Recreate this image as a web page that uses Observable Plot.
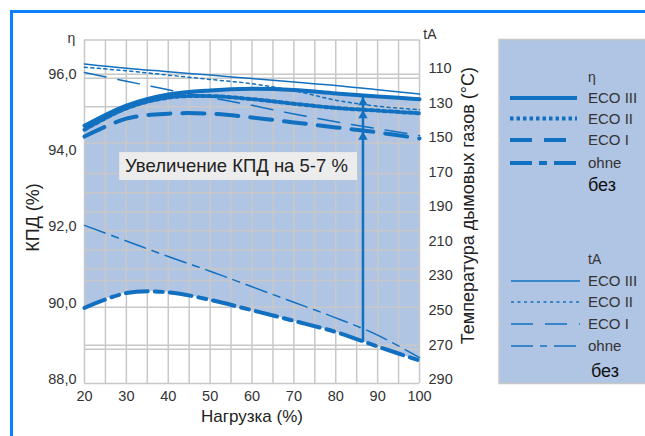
<!DOCTYPE html>
<html>
<head>
<meta charset="utf-8">
<script src="https://cdn.jsdelivr.net/npm/d3@7"></script>
<script src="https://cdn.jsdelivr.net/npm/@observablehq/plot@0.6"></script>
<style>
  html, body { margin: 0; padding: 0; background: #fff; }
  #wrap { position: relative; width: 645px; height: 436px; overflow: hidden; font-family: "Liberation Sans", Arial, sans-serif; }
  #frame { position: absolute; left: 10px; top: 10px; width: 700px; height: 500px; border-left: 3px solid #0a80ff; border-top: 3px solid #0a80ff; pointer-events: none; }
  #chart { position: absolute; left: 0; top: 0; }
</style>
</head>
<body>
<div id="wrap"><div id="chart"></div><div id="frame"></div></div>
<script>
// ---- data ----
const loads      = [20, 30, 40, 50, 60, 70, 80, 90, 100];           // Нагрузка (%)
const etaEcoIII  = [94.75, 95.28, 95.57, 95.68, 95.72, 95.69, 95.60, 95.52, 95.45];
const etaEcoII   = [94.65, 95.21, 95.49, 95.53, 95.45, 95.33, 95.22, 95.15, 95.08];
const etaEcoI    = [94.47, 94.94, 95.07, 95.07, 94.97, 94.84, 94.71, 94.58, 94.42];
const etaOhne    = [89.98, 90.37, 90.39, 90.19, 89.92, 89.64, 89.35, 88.97, 88.60];
const tEcoIII    = [105, 107.5, 109.5, 111.5, 113.5, 115.5, 117.5, 120, 122.5];   // °C
const tEcoII     = [107, 109, 111.5, 114, 116.5, 120.5, 126, 129.5, 131.5];
const tEcoI      = [110, 115, 120, 124.5, 129, 134, 138.5, 142.5, 146.5];
const tOhne      = [198.5, 207.5, 216.5, 225, 234, 243, 252, 262, 275];

const xTicks     = [20, 30, 40, 50, 60, 70, 80, 90, 100];
const xGrid      = [20, 25, 30, 35, 40, 45, 50, 55, 60, 65, 70, 75, 80, 85, 90, 95, 100];
const etaTicks   = [88, 90, 92, 94, 96];
const etaGrid    = [97, 96.1, 96, 95.25, 94.3, 93.5, 93, 92.5, 92, 91.5, 91, 90.7, 90, 89, 88.9, 88];
const tempTicks  = [110, 130, 150, 170, 190, 210, 230, 250, 270, 290];

const arrowLoad  = 86.5;
const arrowFrom  = 89.07;
const arrowTo    = 95.50;
const arrowHeads = [95.50, 95.16, 94.60];

const seriesNames = ["ECO III", "ECO II", "ECO I", "ohne"];
const annotationText = "Увеличение КПД на 5-7 %";

// ---- helpers ----
// right axis (flue-gas temperature) is a linear relabelling of the left axis
const tToEta = t => 88 + (290 - t) * (8.148 / 180);
const fmtEta = d => d.toFixed(1).replace(".", ",");

const rows = loads.map((l, i) => ({
  load: l,
  eco3: etaEcoIII[i], eco2: etaEcoII[i], eco1: etaEcoI[i], ohne: etaOhne[i],
  t3: tToEta(tEcoIII[i]), t2: tToEta(tEcoII[i]), t1: tToEta(tEcoI[i]), t0: tToEta(tOhne[i])
}));

const blue = "#1170bf";
const gridC = "#c8c8c8";
const fillC = "#b0c4e3";
const txt = "#333";

const thick = { "ECO III": null, "ECO II": "3.5,3", "ECO I": "22,12", "ohne": "22,7,8,7" };
const thin  = { "ECO III": null, "ECO II": "3,3.5", "ECO I": "22,12", "ohne": "22,7,7,7" };
const etaKeys = { "ECO III": "eco3", "ECO II": "eco2", "ECO I": "eco1", "ohne": "ohne" };
const tKeys   = { "ECO III": "t3", "ECO II": "t2", "ECO I": "t1", "ohne": "t0" };

const marks = [
  Plot.areaY(rows, { x: "load", y1: "ohne", y2: "eco3", fill: fillC, curve: "catmull-rom" }),
  Plot.ruleX(xGrid, { stroke: gridC, strokeWidth: 1.5 }),
  Plot.ruleY(etaGrid, { stroke: gridC, strokeWidth: 1.5 }),
];
for (const s of seriesNames) {
  marks.push(Plot.line(rows, { x: "load", y: tKeys[s], stroke: blue, strokeWidth: 1.5,
    strokeDasharray: thin[s], curve: "catmull-rom" }));
}
for (const s of seriesNames) {
  marks.push(Plot.line(rows, { x: "load", y: etaKeys[s], stroke: blue, strokeWidth: 4,
    strokeDasharray: thick[s], curve: "catmull-rom" }));
}
marks.push(
  Plot.rect([{ x1: 28.4, x2: 85.2, y1: 93.32, y2: 94.05 }], { x1: "x1", x2: "x2", y1: "y1", y2: "y2", fill: "#ececec" }),
  Plot.text([annotationText], { x: 29.7, y: 93.69, text: d => d, textAnchor: "start", fontSize: 18.5, fill: "#222" }),
  Plot.ruleX([arrowLoad], { y1: arrowFrom, y2: arrowTo, stroke: blue, strokeWidth: 2.5 }),
  Plot.dot(arrowHeads, { x: () => arrowLoad, y: d => d, symbol: "triangle", r: 3.5, fill: blue, dy: 5.4 }),
  // tick labels
  Plot.text(xTicks, { x: d => d, frameAnchor: "bottom", dy: 17, text: d => String(d), fontSize: 14.5, fill: txt }),
  Plot.text(etaTicks, { y: d => d, frameAnchor: "left", dx: -8, dy: -4, textAnchor: "end", text: fmtEta, fontSize: 14.5, fill: txt }),
  Plot.text(tempTicks, { y: d => tToEta(d), frameAnchor: "right", dx: 9, dy: -4, textAnchor: "start", text: d => String(d), fontSize: 14.5, fill: txt }),
  // axis titles (placed in scale coordinates outside the frame)
  Plot.text(["КПД (%)"], { x: 7.8, y: 92.35, rotate: -90, text: d => d, fontSize: 18, fill: "#222" }),
  Plot.text(["Температура дымовых газов (°C)"], { x: 111.7, y: 92.66, rotate: -90, text: d => d, fontSize: 18, fill: "#222" }),
  Plot.text(["Нагрузка (%)"], { frameAnchor: "bottom", dy: 38, text: d => d, fontSize: 17, fill: "#222" }),
  Plot.text(["η"], { frameAnchor: "top-left", dx: -17, dy: -7, text: d => d, fontSize: 14, fill: txt }),
  Plot.text(["tA"], { frameAnchor: "top-right", dx: 17, dy: -11, text: d => d, fontSize: 14, fill: txt })
);

const chart = Plot.plot({
  width: 645, height: 436,
  marginLeft: 84, marginRight: 226, marginTop: 39.5, marginBottom: 53,
  x: { domain: [20, 100], axis: null },
  y: { domain: [88, 97], axis: null },
  style: { fontFamily: "'Liberation Sans', Arial, sans-serif", background: "transparent", overflow: "visible" },
  marks
});
document.getElementById("chart").appendChild(chart);

// ---- legend box (drawn into the same SVG) ----
const svg = d3.select(chart);
const lg = svg.append("g").attr("font-family", "'Liberation Sans', Arial, sans-serif").attr("text-anchor", "start");
lg.append("rect").attr("x", 499).attr("y", 39.5).attr("width", 170).attr("height", 344)
  .attr("fill", fillC).attr("stroke", gridC).attr("stroke-width", 1.5);

function legendGroup(title, y0, styles, width, x1, x2, ys, byeY, byeX) {
  lg.append("text").attr("x", 588).attr("y", y0).attr("dy", "0.35em")
    .attr("font-size", 14).attr("fill", txt).text(title);
  seriesNames.forEach((s, i) => {
    lg.append("line").attr("x1", x1).attr("x2", x2).attr("y1", ys[i]).attr("y2", ys[i])
      .attr("stroke", blue).attr("stroke-width", width)
      .attr("stroke-dasharray", styles[s]);
    lg.append("text").attr("x", 588).attr("y", ys[i]).attr("dy", "0.35em")
      .attr("font-size", 15).attr("fill", txt).text(s);
  });
  lg.append("text").attr("x", byeX).attr("y", byeY).attr("dy", "0.35em")
    .attr("font-size", 18).attr("fill", "#111").text("без");
}
legendGroup("η", 77, thick, 4, 510, 577, [98, 118.5, 140, 163], 184.5, 588);
legendGroup("tA", 259, thin, 1.5, 511, 580, [281, 302, 324, 346], 371, 591);
</script>
</body>
</html>
